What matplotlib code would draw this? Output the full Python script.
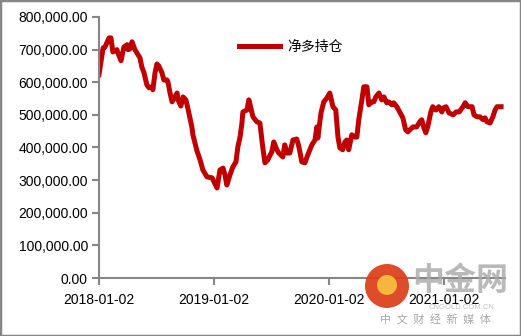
import numpy as np
import pandas as pd
import matplotlib
matplotlib.use("Agg")
import matplotlib.pyplot as plt
import matplotlib.dates as mdates
from matplotlib.ticker import FuncFormatter
from matplotlib.patches import Rectangle, Circle

# net long position
dates = [
    "2018-01-02", "2018-01-15", "2018-01-21", "2018-02-03", "2018-02-09", "2018-02-15",
    "2018-02-28", "2018-03-03", "2018-03-13", "2018-03-22", "2018-04-01", "2018-04-04",
    "2018-04-10", "2018-04-17", "2018-04-26", "2018-05-06", "2018-05-12", "2018-05-18",
    "2018-05-25", "2018-06-03", "2018-06-10", "2018-06-19", "2018-06-22", "2018-06-29",
    "2018-07-05", "2018-07-11", "2018-07-21", "2018-07-27", "2018-08-06", "2018-08-09",
    "2018-08-15", "2018-08-22", "2018-08-31", "2018-09-07", "2018-09-10", "2018-09-19",
    "2018-09-26", "2018-10-05", "2018-10-11", "2018-10-24", "2018-10-27", "2018-11-09",
    "2018-11-19", "2018-11-28", "2018-12-11", "2018-12-27",
    "2019-01-12", "2019-01-21", "2019-01-31", "2019-02-06", "2019-02-12", "2019-02-22",
    "2019-03-03", "2019-03-13", "2019-03-19", "2019-03-26", "2019-04-01", "2019-04-04",
    "2019-04-17", "2019-04-23", "2019-05-06", "2019-05-18", "2019-05-28", "2019-06-06",
    "2019-06-13", "2019-06-22", "2019-07-05", "2019-07-11", "2019-07-21", "2019-07-27",
    "2019-08-09", "2019-08-15", "2019-08-22", "2019-08-31", "2019-09-10", "2019-09-22",
    "2019-09-29", "2019-10-08", "2019-10-18", "2019-10-27", "2019-11-09", "2019-11-19",
    "2019-11-25", "2019-11-28", "2019-12-08", "2019-12-17", "2019-12-27",
    "2020-01-05", "2020-01-15", "2020-01-24", "2020-01-31", "2020-02-06", "2020-02-15",
    "2020-02-22", "2020-02-28", "2020-03-05", "2020-03-15", "2020-03-25", "2020-03-31",
    "2020-04-06", "2020-04-16", "2020-04-22", "2020-05-02", "2020-05-08", "2020-05-17",
    "2020-05-24", "2020-05-30", "2020-06-09", "2020-06-18", "2020-06-25", "2020-07-04",
    "2020-07-10", "2020-07-20", "2020-07-26", "2020-08-05", "2020-08-14", "2020-08-24",
    "2020-09-02", "2020-09-09", "2020-09-15", "2020-09-25", "2020-10-07", "2020-10-17",
    "2020-10-23", "2020-10-30", "2020-11-05", "2020-11-11", "2020-11-21", "2020-11-27",
    "2020-12-07", "2020-12-16", "2020-12-26", "2020-12-30",
    "2021-01-08", "2021-01-18", "2021-01-31", "2021-02-09", "2021-02-19", "2021-03-03",
    "2021-03-10", "2021-03-19", "2021-04-01", "2021-04-07", "2021-04-17", "2021-04-26",
    "2021-05-06", "2021-05-12", "2021-05-18", "2021-05-28", "2021-06-06", "2021-06-13",
    "2021-06-19", "2021-07-02",
]
net_long = [
    623, 705, 708, 736, 736, 693,
    700, 690, 666, 708, 715, 700,
    702, 724, 700, 684, 675, 647,
    629, 592, 583, 586, 577, 629,
    656, 650, 629, 607, 607, 601,
    570, 540, 555, 567, 546, 527,
    555, 546, 521, 463, 440, 390,
    362, 331, 310, 307,
    276, 331, 337, 316, 285, 316,
    340, 356, 402, 432, 475, 509,
    515, 546, 494, 479, 475, 402,
    353, 362, 387, 417, 393, 383,
    371, 408, 383, 383, 423, 426,
    402, 356, 353, 377, 408, 423,
    463, 429, 506, 540, 552,
    567, 525, 515, 432, 399, 393,
    417, 423, 393, 439, 432, 432,
    485, 546, 586, 586, 531, 540,
    540, 555, 567, 546, 555, 537,
    540, 531, 537, 525, 509, 491,
    454, 448, 454, 463, 463, 479,
    485, 460, 445, 463, 509, 525,
    515, 525, 509, 521,
    525, 506, 500, 509, 509, 525,
    537, 525, 525, 500, 494, 494,
    485, 491, 479, 475, 494, 515,
    525, 525,
]
x_ticks = ["2018-01-02", "2019-01-02", "2020-01-02", "2021-01-02"]
series_name = "净多持仓"

x = pd.to_datetime(dates)
y = np.array(net_long) * 1000.0

plt.rcParams['font.family'] = ['Liberation Sans', 'Noto Sans CJK SC', 'DejaVu Sans']

fig = plt.figure(figsize=(5.21, 3.36), dpi=100)
ax = fig.add_axes([99 / 521, 1 - 278 / 336, (505 - 99) / 521, (278 - 17) / 336])

ax.plot(x, y, color="#C00000", lw=3.6, solid_joinstyle="round", label=series_name)

x0 = mdates.date2num(pd.Timestamp("2018-01-02"))
ax.set_xlim(x0, x0 + (505 - 99) / 115 * 365.25)
ax.set_ylim(0, 800000)
ax.set_yticks(np.arange(0, 800001, 100000))
ax.yaxis.set_major_formatter(FuncFormatter(lambda v, p: f"{v:,.2f}"))
ax.set_xticks(pd.to_datetime(x_ticks))
ax.set_xticklabels(x_ticks)

for s in ["top", "right"]:
    ax.spines[s].set_visible(False)
for s in ["left", "bottom"]:
    ax.spines[s].set_color("#868686")
    ax.spines[s].set_linewidth(1.5)
ax.tick_params(axis="both", colors="#868686", labelcolor="black", labelsize=10,
               length=5, width=1.5, direction="out")
ax.tick_params(axis="y", pad=3)
ax.tick_params(axis="x", pad=6)

leg = ax.legend(loc="center left", bbox_to_anchor=((226 - 99) / 406, 1 - (47 - 17) / 261),
                frameon=False, handlelength=3.0, handletextpad=0.5,
                prop={"family": ["Noto Sans CJK SC"], "size": 10})

# watermark (logo + site name)
fig.patches.append(Circle((3.87, 3.36 - 2.86), 0.22, transform=fig.dpi_scale_trans,
                          facecolor="#dc3d18", edgecolor="none", alpha=0.92, zorder=5))
fig.patches.append(Circle((3.87, 3.36 - 2.85), 0.10, transform=fig.dpi_scale_trans,
                          facecolor="#f4b63c", edgecolor="none", zorder=6))
fig.text(460 / 521, 1 - 281 / 336, "中金网", family=["Noto Sans CJK SC"], fontsize=23,
         fontweight="bold", color="#a8a8a8", alpha=0.8, ha="center", va="center", zorder=6)
fig.text(462 / 521, 1 - 307.5 / 336, "CNGOLD.COM.CN", fontsize=5.5, color="#c0c0c0",
         ha="center", va="center", zorder=4)
fig.text(435 / 521, 1 - 319 / 336, "中\u2002文\u2002财\u2002经\u2002新\u2002媒\u2002体",
         family=["Noto Sans CJK SC", "DejaVu Sans"],
         fontsize=8, color="#a8a8a8", ha="center", va="center", zorder=6)

# outer frame
fig.patches.append(Rectangle((0, 0), 1, 1, transform=fig.transFigure, fill=False,
                             edgecolor="#868686", linewidth=2.5))

fig.savefig("out.png", dpi=100)
